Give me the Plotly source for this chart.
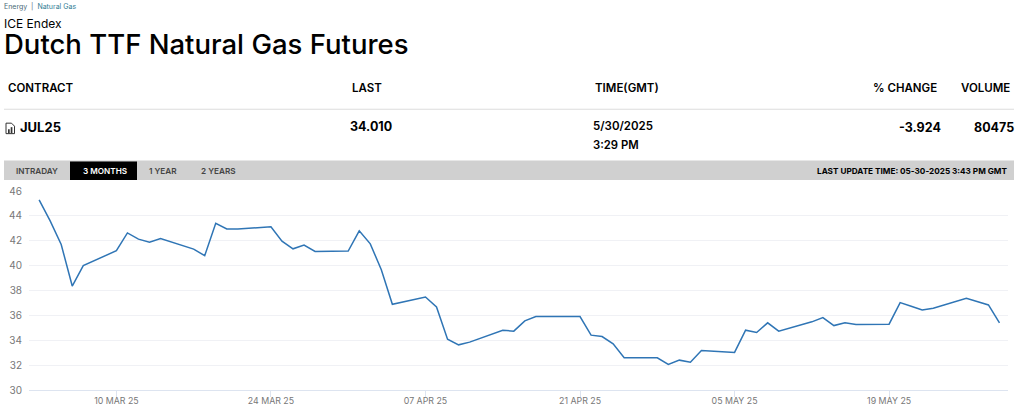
import plotly.graph_objects as go

dates = ["2025-03-03","2025-03-04","2025-03-05","2025-03-06","2025-03-07",
 "2025-03-10","2025-03-11","2025-03-12","2025-03-13","2025-03-14",
 "2025-03-17","2025-03-18","2025-03-19","2025-03-20","2025-03-21",
 "2025-03-24","2025-03-25","2025-03-26","2025-03-27","2025-03-28",
 "2025-03-31","2025-04-01","2025-04-02","2025-04-03","2025-04-04",
 "2025-04-07","2025-04-08","2025-04-09","2025-04-10","2025-04-11",
 "2025-04-14","2025-04-15","2025-04-16","2025-04-17",
 "2025-04-21","2025-04-22","2025-04-23","2025-04-24","2025-04-25",
 "2025-04-28","2025-04-29","2025-04-30","2025-05-01","2025-05-02",
 "2025-05-05","2025-05-06","2025-05-07","2025-05-08","2025-05-09",
 "2025-05-12","2025-05-13","2025-05-14","2025-05-15","2025-05-16",
 "2025-05-19","2025-05-20","2025-05-21","2025-05-22","2025-05-23",
 "2025-05-26","2025-05-28","2025-05-29"]
prices = [45.28,43.6,41.7,38.36,40.0,
 41.2,42.63,42.13,41.89,42.18,
 41.33,40.8,43.41,42.95,42.95,
 43.12,41.97,41.35,41.65,41.14,
 41.17,42.8,41.75,39.67,36.89,
 37.48,36.68,34.09,33.63,33.85,
 34.81,34.73,35.56,35.9,
 35.9,34.41,34.3,33.71,32.59,
 32.59,32.06,32.4,32.24,33.18,
 33.02,34.81,34.62,35.4,34.73,
 35.48,35.82,35.18,35.4,35.26,
 35.29,37.03,36.73,36.44,36.57,
 37.37,36.84,35.4]
x_tick_dates = ["2025-03-10","2025-03-24","2025-04-07","2025-04-21","2025-05-05","2025-05-19"]
x_tick_labels = ["10 MAR 25","24 MAR 25","07 APR 25","21 APR 25","05 MAY 25","19 MAY 25"]
y_ticks = [30,32,34,36,38,40,42,44,46]

PL, PR, PT, PB = 29, 1008, 190.5, 390
def px(x): return (x-PL)/(PR-PL)
def py(y): return (PB-y)/(PB-PT)

FONT = "Inter, 'Liberation Sans', Arial, sans-serif"
fig = go.Figure(go.Scatter(x=dates, y=prices, mode="lines",
    line=dict(color="#2f75b5", width=1.5), hoverinfo="skip"))

def text(x, y, s, size, color="#000000", weight=400, anchor="left"):
    fig.add_annotation(xref="paper", yref="paper", x=px(x), y=py(y), text=s, showarrow=False,
        xanchor=anchor, yanchor="middle", borderpad=0,
        font=dict(family=FONT, size=size, color=color, weight=weight))
def rect(x0, y0, x1, y1, fill):
    fig.add_shape(type="rect", xref="paper", yref="paper", x0=px(x0), x1=px(x1), y0=py(y1), y1=py(y0),
        fillcolor=fill, line_width=0, layer="below")

rect(4, 108, 1014, 109, "#dcdcdc")
rect(4, 160, 1014, 179.5, "#d0d0d0")
rect(70, 161, 137, 179.5, "#000000")

# document icon
fig.add_shape(type="path", xref="paper", yref="paper",
    path="M %f %f L %f %f L %f %f L %f %f L %f %f Z" % (
        px(6),py(122.5), px(11.5),py(122.5), px(14.5),py(125.5), px(14.5),py(133), px(6),py(133)),
    fillcolor="#ffffff", line=dict(color="#333333", width=1), layer="above")
fig.add_shape(type="rect", xref="paper", yref="paper", x0=px(8), x1=px(9.7), y0=py(132.5), y1=py(128.5),
    fillcolor="#333333", line_width=0, layer="above")
fig.add_shape(type="rect", xref="paper", yref="paper", x0=px(10.7), x1=px(12.4), y0=py(132.5), y1=py(126.5),
    fillcolor="#333333", line_width=0, layer="above")

text(3, 6, "Energy&nbsp;&nbsp;|&nbsp;&nbsp;<span style='color:#2f7d95'>Natural Gas</span>", 7, "#4a6b78")
text(3, 23, "ICE Endex", 12)
text(3, 43, "Dutch TTF Natural Gas Futures", 27.5, weight=500)

for x, s in [(7, "CONTRACT"), (351, "LAST"), (594, "TIME(GMT)"), (872, "% CHANGE"), (959.5, "VOLUME")]:
    text(x, 87, s, 11.5, weight=600)
text(19, 126, "JUL25", 13, weight=700)
text(349, 126, "34.010", 12.5, weight=700)
text(592, 125, "5/30/2025", 11.5, weight=600)
text(592, 144, "3:29 PM", 11.3, weight=600)
text(941.5, 127, "-3.924", 12.5, weight=700, anchor="right")
text(1014.5, 127, "80475", 12.5, weight=700, anchor="right")

for x, s, c in [(14.5, "INTRADAY", "#444444"), (81.5, "3 MONTHS", "#ffffff"), (147.5, "1 YEAR", "#444444"), (199.5, "2 YEARS", "#444444")]:
    text(x, 170, s, 8.2, c, weight=600)
text(1007.5, 170, "LAST UPDATE TIME: 05-30-2025 3:43 PM GMT", 8.2, weight=700, anchor="right")

fig.update_layout(width=1024, height=414,
    margin=dict(l=PL, r=1024-PR, t=PT, b=414-PB, autoexpand=False),
    paper_bgcolor="#ffffff", plot_bgcolor="#ffffff", showlegend=False, hovermode=False)
fig.update_xaxes(type="date", range=["2025-03-02 02:00","2025-05-29 18:30"],
    tickmode="array", tickvals=x_tick_dates, ticktext=x_tick_labels, showgrid=False,
    showline=True, linecolor="#dde4f0", linewidth=1, ticks="outside", ticklen=6, tickcolor="#dde4f0",
    ticklabelstandoff=-4,
    tickfont=dict(family=FONT, size=8.8, color="#777777"), zeroline=False, automargin=False)
fig.update_yaxes(range=[30,46], tickmode="array", tickvals=y_ticks, gridcolor="#f0f1f5", gridwidth=1,
    ticks="", showline=False, zeroline=False, automargin=False, ticklabelstandoff=6,
    tickfont=dict(family=FONT, size=10, color="#777777"))

fig.write_html("out.html", config={"displayModeBar": False},
    post_script="document.body.style.margin='0';document.body.style.overflow='hidden';")
